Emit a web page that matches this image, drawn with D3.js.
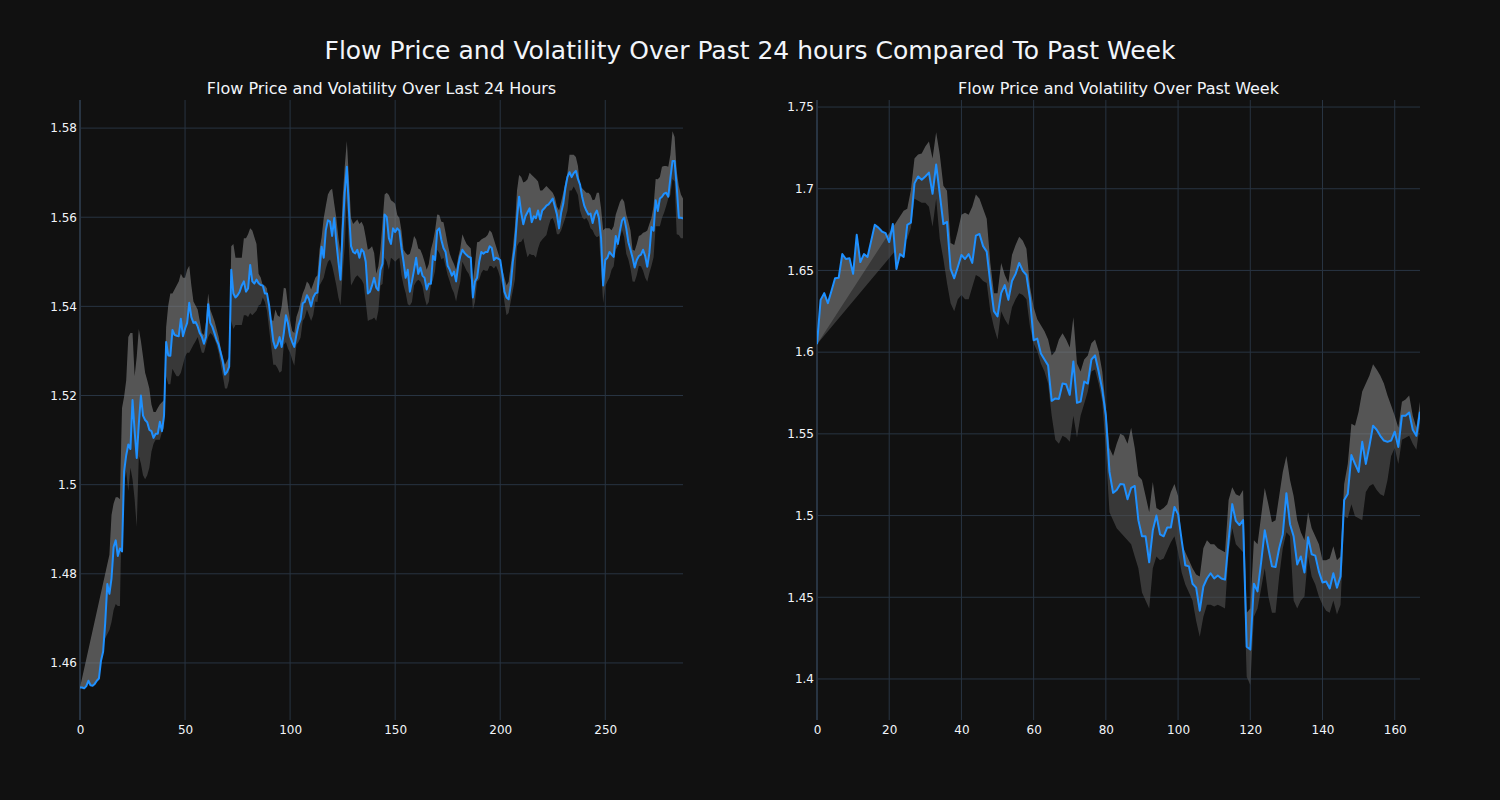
<!DOCTYPE html>
<html><head><meta charset="utf-8">
<script src="https://cdn.jsdelivr.net/npm/d3@7"></script>
<style>html,body{margin:0;background:#111111;} svg{display:block;font-family:"DejaVu Sans",sans-serif;}</style>
</head><body><svg id="c" width="1500" height="800"></svg>
<script>
const mainTitle = "Flow Price and Volatility Over Past 24 hours Compared To Past Week";
const leftTitle = "Flow Price and Volatility Over Last 24 Hours";
const rightTitle = "Flow Price and Volatility Over Past Week";

const leftXTicks = [0, 50, 100, 150, 200, 250];
const leftYTicks = [1.46, 1.48, 1.50, 1.52, 1.54, 1.56, 1.58];
const leftYTickLabels = ["1.46", "1.48", "1.5", "1.52", "1.54", "1.56", "1.58"];
const rightXTicks = [0, 20, 40, 60, 80, 100, 120, 140, 160];
const rightYTicks = [1.40, 1.45, 1.50, 1.55, 1.60, 1.65, 1.70, 1.75];
const rightYTickLabels = ["1.4", "1.45", "1.5", "1.55", "1.6", "1.65", "1.7", "1.75"];

const leftPrice = [
1.4545,1.4545,1.4543,1.4548,1.4560,1.4550,1.4549,1.4553,1.4560,1.4565,
1.4605,1.4625,1.4690,1.4777,1.4755,1.4790,1.4860,1.4875,1.4840,1.4857,
1.4850,1.5030,1.5066,1.5090,1.5080,1.5190,1.5120,1.5060,1.5137,1.5200,
1.5155,1.5145,1.5140,1.5123,1.5120,1.5105,1.5114,1.5114,1.5141,1.5120,
1.5155,1.5320,1.5290,1.5289,1.5347,1.5336,1.5334,1.5333,1.5372,1.5333,
1.5350,1.5363,1.5408,1.5376,1.5363,1.5365,1.5355,1.5340,1.5332,1.5316,
1.5332,1.5405,1.5363,1.5354,1.5340,1.5325,1.5314,1.5295,1.5275,1.5247,
1.5253,1.5265,1.5482,1.5429,1.5420,1.5425,1.5433,1.5447,1.5456,1.5433,
1.5440,1.5493,1.5456,1.5451,1.5460,1.5452,1.5448,1.5447,1.5429,1.5429,
1.5402,1.5362,1.5322,1.5306,1.5314,1.5331,1.5309,1.5340,1.5380,1.5362,
1.5333,1.5320,1.5309,1.5336,1.5358,1.5371,1.5407,1.5410,1.5425,1.5416,
1.5400,1.5420,1.5429,1.5431,1.5482,1.5534,1.5509,1.5571,1.5593,1.5590,
1.5558,1.5598,1.5544,1.5500,1.5460,1.5571,1.5655,1.5713,1.5615,1.5535,
1.5522,1.5519,1.5527,1.5509,1.5528,1.5522,1.5500,1.5429,1.5433,1.5447,
1.5464,1.5442,1.5436,1.5482,1.5496,1.5606,1.5600,1.5553,1.5540,1.5575,
1.5567,1.5575,1.5570,1.5531,1.5500,1.5464,1.5482,1.5433,1.5456,1.5482,
1.5509,1.5473,1.5487,1.5469,1.5464,1.5438,1.5451,1.5451,1.5513,1.5504,
1.5570,1.5575,1.5549,1.5531,1.5522,1.5491,1.5482,1.5469,1.5478,1.5456,
1.5491,1.5513,1.5527,1.5520,1.5515,1.5511,1.5509,1.5420,1.5456,1.5464,
1.5500,1.5522,1.5518,1.5522,1.5522,1.5535,1.5531,1.5504,1.5509,1.5507,
1.5504,1.5473,1.5433,1.5420,1.5416,1.5447,1.5500,1.5535,1.5598,1.5646,
1.5610,1.5584,1.5602,1.5611,1.5620,1.5589,1.5602,1.5598,1.5615,1.5595,
1.5615,1.5620,1.5626,1.5629,1.5635,1.5642,1.5624,1.5606,1.5575,1.5610,
1.5630,1.5665,1.5690,1.5701,1.5690,1.5699,1.5704,1.5686,1.5673,1.5646,
1.5626,1.5615,1.5606,1.5608,1.5587,1.5606,1.5615,1.5598,1.5553,1.5447,
1.5504,1.5509,1.5522,1.5516,1.5511,1.5558,1.5540,1.5570,1.5593,1.5599,
1.5575,1.5544,1.5527,1.5509,1.5487,1.5504,1.5513,1.5516,1.5527,1.5513,
1.5489,1.5520,1.5578,1.5570,1.5638,1.5614,1.5642,1.5646,1.5653,1.5655,
1.5646,1.5688,1.5726,1.5726,1.5669,1.5599,1.5599,1.5597];

const leftUpper = [
null,null,null,null,null,null,null,null,null,null,null,null,null,null,
1.4843,1.4932,1.4958,1.4972,1.4972,1.4967,
1.5172,1.5198,1.5234,1.5331,1.5340,1.5340,1.5243,1.5287,1.5349,1.5322,
1.5287,1.5251,1.5234,1.5216,1.5180,1.5163,1.5163,1.5172,1.5180,1.5185,
1.5190,1.5353,1.5402,1.5429,1.5429,1.5438,1.5447,1.5456,1.5473,1.5464,
1.5464,1.5482,1.5491,1.5447,1.5411,1.5402,1.5393,1.5367,1.5340,1.5336,
1.5367,1.5429,1.5393,1.5380,1.5367,1.5349,1.5331,1.5305,1.5287,1.5269,
1.5278,1.5287,1.5535,1.5540,1.5509,1.5509,1.5509,1.5509,1.5553,1.5553,
1.5562,1.5575,1.5570,1.5555,1.5540,1.5473,1.5465,1.5447,1.5447,1.5440,
1.5385,1.5370,1.5367,1.5393,1.5380,1.5376,1.5400,1.5442,1.5440,1.5400,
1.5367,1.5345,1.5340,1.5376,1.5390,1.5410,1.5429,1.5440,1.5456,1.5450,
1.5438,1.5450,1.5464,1.5470,1.5527,1.5555,1.5598,1.5625,1.5651,1.5660,
1.5664,1.5630,1.5598,1.5553,1.5518,1.5642,1.5713,1.5771,1.5686,1.5598,
1.5585,1.5590,1.5595,1.5585,1.5590,1.5580,1.5555,1.5527,1.5530,1.5535,
1.5520,1.5473,1.5490,1.5527,1.5590,1.5651,1.5655,1.5650,1.5638,1.5635,
1.5630,1.5605,1.5598,1.5570,1.5527,1.5520,1.5515,1.5518,1.5535,1.5558,
1.5550,1.5530,1.5527,1.5515,1.5500,1.5482,1.5495,1.5527,1.5545,1.5570,
1.5606,1.5605,1.5590,1.5589,1.5565,1.5540,1.5518,1.5505,1.5495,1.5482,
1.5510,1.5530,1.5562,1.5550,1.5540,1.5535,1.5530,1.5456,1.5495,1.5544,
1.5545,1.5550,1.5553,1.5555,1.5560,1.5571,1.5565,1.5550,1.5535,1.5520,
1.5505,1.5482,1.5465,1.5447,1.5455,1.5491,1.5530,1.5580,1.5660,1.5695,
1.5690,1.5678,1.5680,1.5685,1.5700,1.5695,1.5690,1.5686,1.5680,1.5660,
1.5660,1.5665,1.5670,1.5665,1.5660,1.5655,1.5645,1.5624,1.5615,1.5635,
1.5655,1.5678,1.5700,1.5740,1.5740,1.5740,1.5735,1.5715,1.5669,1.5665,
1.5660,1.5655,1.5655,1.5650,1.5638,1.5640,1.5655,1.5655,1.5620,1.5571,
1.5575,1.5575,1.5575,1.5571,1.5580,1.5606,1.5620,1.5635,1.5642,1.5635,
1.5606,1.5590,1.5570,1.5527,1.5525,1.5540,1.5558,1.5560,1.5565,1.5567,
1.5570,1.5585,1.5598,1.5625,1.5686,1.5685,1.5690,1.5713,1.5715,1.5715,
1.5713,1.5740,1.5793,1.5780,1.5704,1.5670,1.5651,1.5642];

const leftLower = [
null,null,null,null,null,null,null,null,null,null,null,null,null,null,
1.4674,1.4692,1.4719,1.4732,1.4728,1.4728,
1.4976,1.5003,1.5029,1.4985,1.5038,1.5012,1.4967,1.4905,1.5065,1.5047,
1.5021,1.5012,1.5021,1.5038,1.5074,1.5092,1.5101,1.5101,1.5101,1.5118,
1.5127,1.5243,1.5225,1.5225,1.5260,1.5251,1.5243,1.5243,1.5251,1.5269,
1.5287,1.5296,1.5296,1.5305,1.5314,1.5322,1.5331,1.5314,1.5296,1.5296,
1.5314,1.5331,1.5340,1.5336,1.5327,1.5314,1.5296,1.5269,1.5243,1.5216,
1.5216,1.5234,1.5367,1.5349,1.5358,1.5358,1.5358,1.5358,1.5380,1.5380,
1.5376,1.5385,1.5380,1.5385,1.5390,1.5402,1.5405,1.5420,1.5410,1.5390,
1.5349,1.5310,1.5269,1.5269,1.5262,1.5251,1.5255,1.5314,1.5320,1.5305,
1.5296,1.5280,1.5267,1.5314,1.5320,1.5330,1.5367,1.5375,1.5393,1.5380,
1.5367,1.5380,1.5411,1.5410,1.5447,1.5455,1.5464,1.5485,1.5500,1.5505,
1.5491,1.5470,1.5447,1.5420,1.5402,1.5473,1.5535,1.5642,1.5527,1.5447,
1.5455,1.5465,1.5470,1.5465,1.5460,1.5450,1.5410,1.5367,1.5370,1.5371,
1.5375,1.5367,1.5390,1.5447,1.5450,1.5509,1.5500,1.5482,1.5509,1.5505,
1.5500,1.5505,1.5509,1.5470,1.5447,1.5430,1.5405,1.5402,1.5410,1.5447,
1.5455,1.5460,1.5456,1.5445,1.5420,1.5402,1.5410,1.5447,1.5460,1.5480,
1.5527,1.5520,1.5505,1.5509,1.5490,1.5470,1.5456,1.5440,1.5430,1.5411,
1.5435,1.5455,1.5500,1.5490,1.5480,1.5473,1.5460,1.5393,1.5410,1.5456,
1.5460,1.5475,1.5482,1.5480,1.5480,1.5491,1.5490,1.5485,1.5491,1.5480,
1.5465,1.5447,1.5410,1.5380,1.5385,1.5411,1.5435,1.5460,1.5535,1.5544,
1.5545,1.5553,1.5530,1.5510,1.5518,1.5515,1.5515,1.5509,1.5530,1.5544,
1.5550,1.5555,1.5560,1.5580,1.5595,1.5598,1.5585,1.5562,1.5562,1.5570,
1.5585,1.5598,1.5615,1.5660,1.5660,1.5669,1.5660,1.5650,1.5615,1.5600,
1.5595,1.5598,1.5590,1.5575,1.5571,1.5560,1.5555,1.5558,1.5485,1.5407,
1.5445,1.5456,1.5465,1.5482,1.5490,1.5527,1.5535,1.5555,1.5571,1.5555,
1.5518,1.5505,1.5485,1.5456,1.5455,1.5470,1.5491,1.5490,1.5480,1.5464,
1.5455,1.5475,1.5491,1.5510,1.5580,1.5580,1.5580,1.5598,1.5610,1.5625,
1.5642,1.5650,1.5686,1.5680,1.5562,1.5560,1.5553,1.5553];

const rightPrice = [
1.6049,1.6320,1.6361,1.6300,1.6374,1.6452,1.6455,1.6600,1.6570,1.6575,
1.6479,1.6718,1.6551,1.6600,1.6583,1.6681,1.6779,1.6762,1.6738,1.6728,
1.6674,1.6784,1.6509,1.6600,1.6583,1.6779,1.6792,1.7033,1.7075,1.7055,
1.7075,1.7099,1.6969,1.7148,1.6969,1.6784,1.6797,1.6509,1.6452,1.6521,
1.6595,1.6570,1.6600,1.6546,1.6713,1.6723,1.6649,1.6615,1.6423,1.6251,
1.6219,1.6361,1.6410,1.6320,1.6435,1.6479,1.6546,1.6497,1.6472,1.6324,
1.6073,1.6083,1.5992,1.5955,1.5919,1.5702,1.5717,1.5714,1.5808,1.5803,
1.5739,1.5943,1.5690,1.5697,1.5820,1.5808,1.5955,1.5980,1.5882,1.5771,
1.5611,1.5267,1.5139,1.5156,1.5193,1.5190,1.5100,1.5169,1.5181,1.4972,
1.4873,1.4873,1.4714,1.4910,1.5001,1.4885,1.4873,1.4927,1.4927,1.5053,
1.5009,1.4848,1.4696,1.4689,1.4583,1.4559,1.4418,1.4566,1.4615,1.4647,
1.4615,1.4633,1.4615,1.4608,1.4849,1.5070,1.4967,1.4942,1.4972,1.4197,
1.4180,1.4583,1.4536,1.4714,1.4910,1.4799,1.4689,1.4685,1.4800,1.4886,
1.5137,1.4947,1.4873,1.4701,1.4750,1.4652,1.4868,1.4763,1.4755,1.4657,
1.4591,1.4596,1.4554,1.4647,1.4559,1.4628,1.5095,1.5132,1.5370,1.5316,
1.5267,1.5451,1.5316,1.5427,1.5550,1.5525,1.5488,1.5459,1.5451,1.5459,
1.5513,1.5420,1.5611,1.5611,1.5631,1.5525,1.5488,1.5636];

const rightUpper = [
null,null,null,null,null,null,null,null,null,null,null,null,
null,null,null,null,null,null,null,null,null,null,null,null,
1.6865,1.6878,1.6990,1.7185,1.7210,1.7215,
1.7259,1.7289,1.7185,1.7345,1.7210,1.7018,1.6988,1.6668,1.6656,1.6742,
1.6841,1.6853,1.6841,1.6890,1.6964,1.6939,1.6878,1.6816,1.6546,1.6361,
1.6361,1.6546,1.6472,1.6423,1.6595,1.6656,1.6706,1.6681,1.6632,1.6398,
1.6275,1.6201,1.6165,1.6128,1.6078,1.5980,1.6005,1.6078,1.6115,1.6078,
1.6029,1.6214,1.5931,1.5882,1.5955,1.5980,1.6054,1.6078,1.6005,1.5882,
1.5660,1.5414,1.5365,1.5439,1.5500,1.5488,1.5439,1.5537,1.5414,1.5242,
1.5218,1.5120,1.5021,1.5205,1.5046,1.5033,1.5046,1.5070,1.5144,1.5193,
1.5120,1.4824,1.4775,1.4726,1.4677,1.4640,1.4627,1.4800,1.4849,1.4824,
1.4824,1.4800,1.4787,1.4775,1.5095,1.5173,1.5131,1.5120,1.5156,1.4406,
1.4431,1.4849,1.4824,1.4996,1.5169,1.5070,1.4959,1.4972,1.5119,1.5267,
1.5365,1.5218,1.5119,1.4972,1.4898,1.4849,1.5021,1.4923,1.4873,1.4824,
1.4726,1.4726,1.4738,1.4812,1.4726,1.4750,1.5193,1.5316,1.5562,1.5550,
1.5636,1.5759,1.5808,1.5857,1.5926,1.5894,1.5857,1.5808,1.5734,1.5673,
1.5611,1.5537,1.5697,1.5710,1.5734,1.5611,1.5537,1.5697];

const rightLower = [
null,null,null,null,null,null,null,null,null,null,null,null,
null,null,null,null,null,null,null,null,null,null,null,null,
1.6681,1.6693,1.6760,1.6939,1.6927,1.6915,
1.6915,1.6890,1.6767,1.6939,1.6693,1.6570,1.6423,1.6300,1.6251,1.6324,
1.6349,1.6324,1.6324,1.6398,1.6472,1.6460,1.6435,1.6423,1.6251,1.6152,
1.6078,1.6251,1.6201,1.6165,1.6275,1.6324,1.6361,1.6349,1.6324,1.6152,
1.6054,1.6005,1.5931,1.5882,1.5808,1.5611,1.5464,1.5439,1.5488,1.5476,
1.5451,1.5611,1.5476,1.5611,1.5685,1.5759,1.5882,1.5894,1.5808,1.5700,
1.5400,1.5021,1.4972,1.4923,1.4898,1.4873,1.4849,1.4824,1.4750,1.4677,
1.4529,1.4480,1.4431,1.4677,1.4750,1.4726,1.4738,1.4787,1.4836,1.4873,
1.4775,1.4652,1.4578,1.4529,1.4480,1.4357,1.4258,1.4381,1.4455,1.4455,
1.4443,1.4455,1.4443,1.4431,1.4775,1.4923,1.4824,1.4800,1.4775,1.4013,
1.3963,1.4381,1.4431,1.4554,1.4677,1.4504,1.4406,1.4406,1.4627,1.4800,
1.4898,1.4873,1.4480,1.4431,1.4480,1.4504,1.4750,1.4627,1.4578,1.4504,
1.4455,1.4418,1.4406,1.4480,1.4394,1.4455,1.4996,1.4984,1.5070,1.4996,
1.4984,1.4972,1.5144,1.5181,1.5193,1.5156,1.5131,1.5119,1.5218,1.5365,
1.5414,1.5316,1.5464,1.5476,1.5488,1.5439,1.5402,1.5562];

const svg = d3.select("#c");
svg.append("rect").attr("width", 1500).attr("height", 800).attr("fill", "#111111");
svg.append("text").attr("x", 750).attr("y", 59).attr("text-anchor", "middle")
  .attr("fill", "#f2f5fa").attr("font-size", 25).text(mainTitle);

const TOP = 100, BOTTOM = 720;
const GRID = "#283442";

function panel(cfg) {
  const x = d3.scaleLinear().domain(cfg.xDomain).range([cfg.x0, cfg.x1]);
  const y = d3.scaleLinear().domain(cfg.yDomain).range([BOTTOM, TOP]);
  const g = svg.append("g");
  const clipId = "clip" + cfg.id;
  svg.append("clipPath").attr("id", clipId).append("rect")
    .attr("x", cfg.x0).attr("y", TOP).attr("width", cfg.x1 - cfg.x0).attr("height", BOTTOM - TOP);

  // grid
  g.selectAll(".gx").data(cfg.xTicks.filter(t => t !== 0)).join("line")
    .attr("x1", d => x(d)).attr("x2", d => x(d)).attr("y1", TOP).attr("y2", BOTTOM)
    .attr("stroke", GRID).attr("stroke-width", 1);
  g.selectAll(".gy").data(cfg.yTicks).join("line")
    .attr("x1", cfg.x0).attr("x2", cfg.x1).attr("y1", d => y(d)).attr("y2", d => y(d))
    .attr("stroke", GRID).attr("stroke-width", 1);
  // zero line at x = 0
  g.append("line").attr("x1", x(0)).attr("x2", x(0)).attr("y1", TOP).attr("y2", BOTTOM)
    .attr("stroke", GRID).attr("stroke-width", 2);

  // bands
  const line = d3.line();
  const pricePts = cfg.price.map((v, i) => [x(i), y(v)]);
  const edgePts = arr => arr.map((v, i) => v == null ? null : [x(i), y(v)]).filter(Boolean).reverse();
  const bands = g.append("g").attr("clip-path", `url(#${clipId})`).attr("opacity", 0.62);
  bands.append("path").attr("d", line(pricePts.concat(edgePts(cfg.lower))) + "Z").attr("fill", "#515151");
  bands.append("path").attr("d", line(pricePts.concat(edgePts(cfg.upper))) + "Z").attr("fill", "#808080");

  // price line
  g.append("path").attr("clip-path", `url(#${clipId})`)
    .attr("d", line(pricePts)).attr("fill", "none")
    .attr("stroke", "#1e90ff").attr("stroke-width", 2).attr("stroke-linejoin", "round");

  // axes
  const ax = g.append("g").attr("transform", `translate(0,${BOTTOM})`)
    .call(d3.axisBottom(x).tickValues(cfg.xTicks).tickFormat(d3.format("d")).tickSize(0).tickPadding(5));
  const ay = g.append("g").attr("transform", `translate(${cfg.x0},0)`)
    .call(d3.axisLeft(y).tickValues(cfg.yTicks).tickFormat((d, i) => cfg.yLabels[i]).tickSize(0).tickPadding(3));
  [ax, ay].forEach(a => {
    a.select(".domain").remove();
    a.selectAll("text").attr("fill", "#f2f5fa").attr("font-size", 12).attr("font-family", "DejaVu Sans, sans-serif");
  });

  g.append("text").attr("x", (cfg.x0 + cfg.x1) / 2).attr("y", 94).attr("text-anchor", "middle")
    .attr("fill", "#f2f5fa").attr("font-size", 16).text(cfg.title);
}

panel({id: "L", x0: 80, x1: 683, xDomain: [0, leftPrice.length - 1], yDomain: [1.4472, 1.5863],
  xTicks: leftXTicks, yTicks: leftYTicks, yLabels: leftYTickLabels,
  price: leftPrice, upper: leftUpper, lower: leftLower, title: leftTitle});
panel({id: "R", x0: 817, x1: 1420, xDomain: [0, rightPrice.length - 1], yDomain: [1.3749, 1.7543],
  xTicks: rightXTicks, yTicks: rightYTicks, yLabels: rightYTickLabels,
  price: rightPrice, upper: rightUpper, lower: rightLower, title: rightTitle});
</script></body></html>
